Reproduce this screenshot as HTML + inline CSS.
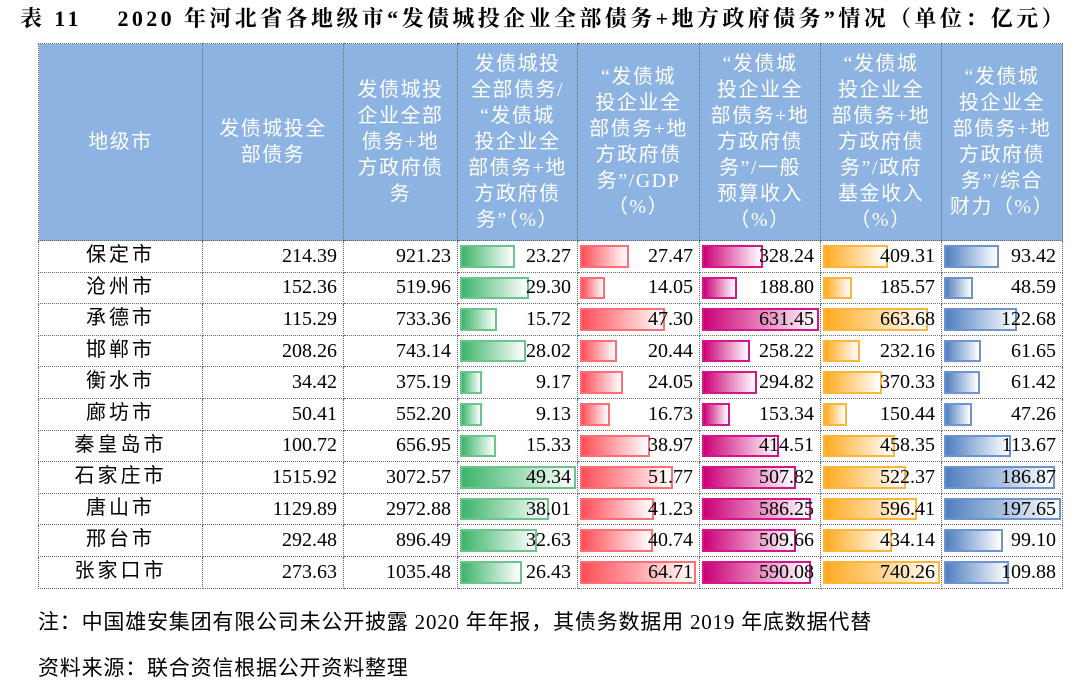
<!DOCTYPE html>
<html><head><meta charset="utf-8"><style>
body{margin:0;width:1080px;height:688px;background:#fff;position:relative;font-family:"Liberation Serif","Noto Sans CJK SC",serif;overflow:hidden}
.title{position:absolute;left:20px;top:2px;font-size:22px;letter-spacing:3.4px;font-weight:bold;white-space:nowrap;font-family:"Liberation Serif","Noto Serif CJK SC",serif}
table{position:absolute;left:38px;top:43px;border-collapse:collapse;table-layout:fixed}
td{border:1px dotted #666;padding:0;height:30.6px;font-size:20px;position:relative}
th{background:#8db3e2;color:#fff;font-weight:normal;border:1px dotted #666;height:196px;font-size:20px;letter-spacing:1.5px;line-height:26px;font-family:"Liberation Serif","Noto Sans CJK SC",sans-serif;padding:0 1px;vertical-align:middle}
td.c{text-align:center;font-family:"Liberation Sans","Noto Sans CJK SC",sans-serif;letter-spacing:3px;font-size:20px;vertical-align:top;line-height:28px}
td.n{text-align:right;padding-right:6px}
.b{position:absolute;left:2px;top:4px;bottom:4px;box-sizing:border-box;border:2px solid}
.g{border-color:#6cc48c;background:linear-gradient(90deg,#3cb46a,#fff)}
.r{border-color:#ff6d75;background:linear-gradient(90deg,#ff4d57,#fff)}
.p{border-color:#d3168a;background:linear-gradient(90deg,#cc0077,#fff)}
.o{border-color:#ffb43a;background:linear-gradient(90deg,#ffaa1f,#fff)}
.u{border-color:#6f94cc;background:linear-gradient(90deg,#4f7fc0,#fff)}
td span{position:relative}
.note{position:absolute;left:38px;font-size:21px;letter-spacing:0.8px;font-family:"Liberation Serif","Noto Sans CJK SC",serif;white-space:nowrap}
</style></head><body>
<div class="title">表 11&nbsp;&nbsp;&nbsp; 2020 年河北省各地级市“发债城投企业全部债务+地方政府债务”情况（单位：亿元）</div>
<table>
<colgroup><col style="width:164px"><col style="width:141px"><col style="width:114px"><col style="width:120px"><col style="width:122px"><col style="width:121px"><col style="width:121px"><col style="width:121px"></colgroup>
<tr>
<th>地级市</th>
<th>发债城投全<br>部债务</th>
<th>发债城投<br>企业全部<br>债务+地<br>方政府债<br>务</th>
<th>发债城投<br>全部债务/<br>“发债城<br>投企业全<br>部债务+地<br>方政府债<br>务”（%）</th>
<th>“发债城<br>投企业全<br>部债务+地<br>方政府债<br>务”/GDP<br>（%）</th>
<th>“发债城<br>投企业全<br>部债务+地<br>方政府债<br>务”/一般<br>预算收入<br>（%）</th>
<th>“发债城<br>投企业全<br>部债务+地<br>方政府债<br>务”/政府<br>基金收入<br>（%）</th>
<th>“发债城<br>投企业全<br>部债务+地<br>方政府债<br>务”/综合<br>财力（%）</th>
</tr>
<tbody id="tb"></tbody>
</table>
<div class="note" style="top:606px">注：中国雄安集团有限公司未公开披露 2020 年年报，其债务数据用 2019 年底数据代替</div>
<div class="note" style="top:652px">资料来源：联合资信根据公开资料整理</div>
<script>
var d=[["保定市","214.39","921.23",23.27,27.47,328.24,409.31,93.42],
["沧州市","152.36","519.96",29.30,14.05,188.80,185.57,48.59],
["承德市","115.29","733.36",15.72,47.30,631.45,663.68,122.68],
["邯郸市","208.26","743.14",28.02,20.44,258.22,232.16,61.65],
["衡水市","34.42","375.19",9.17,24.05,294.82,370.33,61.42],
["廊坊市","50.41","552.20",9.13,16.73,153.34,150.44,47.26],
["秦皇岛市","100.72","656.95",15.33,38.97,414.51,458.35,113.67],
["石家庄市","1515.92","3072.57",49.34,51.77,507.82,522.37,186.87],
["唐山市","1129.89","2972.88",38.01,41.23,586.25,596.41,197.65],
["邢台市","292.48","896.49",32.63,40.74,509.66,434.14,99.10],
["张家口市","273.63","1035.48",26.43,64.71,590.08,740.26,109.88]];
var mx=[49.34,64.71,631.45,740.26,197.65],cl=["g","r","p","o","u"],w=[116,116,117,117,117];
var h="";
d.forEach(function(r){h+='<tr><td class="c">'+r[0]+'</td><td class="n">'+r[1]+'</td><td class="n">'+r[2]+'</td>';
for(var i=0;i<5;i++){var v=r[3+i];h+='<td class="n"><div class="b '+cl[i]+'" style="width:'+(v/mx[i]*w[i]).toFixed(1)+'px"></div><span>'+v.toFixed(2)+'</span></td>';}
h+='</tr>';});
document.getElementById("tb").innerHTML=h;
</script>
</body></html>
